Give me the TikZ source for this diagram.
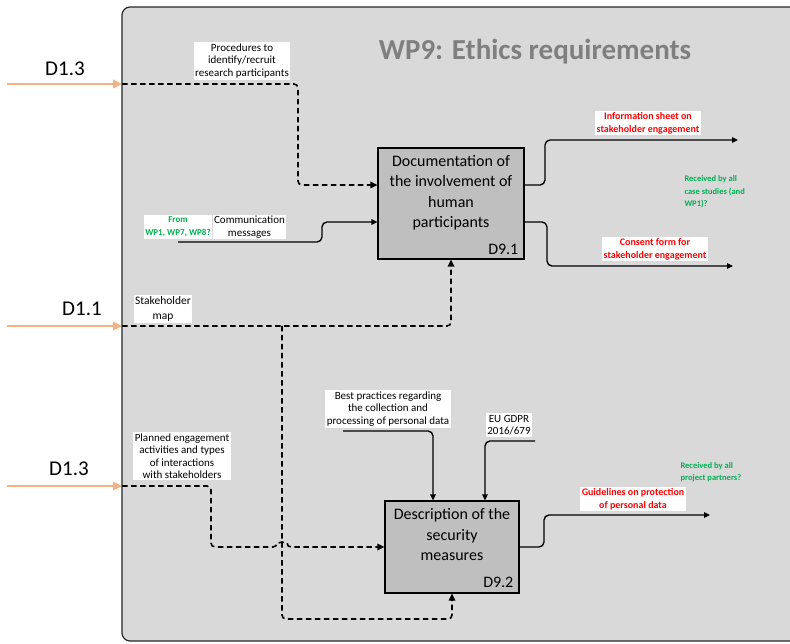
\documentclass[tikz,border=0pt]{standalone}
\usepackage{fontspec}
\setmainfont{Carlito}
\usetikzlibrary{positioning}
\usetikzlibrary{arrows.meta}
\definecolor{bggray}{HTML}{D9D9D9}
\definecolor{boxgray}{HTML}{BFBFBF}
\definecolor{titlegray}{HTML}{7F7F7F}
\definecolor{feedorange}{HTML}{F4B183}
\definecolor{notegreen}{HTML}{00B050}
\tikzstyle{procbox} = [draw, fill=boxgray, line width=1.1pt]
\tikzstyle{proctext} = [align=center, font=\fontsize{16}{20.5}\selectfont]
\tikzstyle{idtag} = [inner sep=0pt, font=\fontsize{16}{20}\selectfont]
\tikzstyle{lbl} = [fill=white, inner sep=1.5pt, align=center, font=\fontsize{11}{12.5}\selectfont]
\tikzstyle{outlbl} = [fill=white, inner sep=1.5pt, align=center, text=red, font=\bfseries\fontsize{10}{13}\selectfont]
\tikzstyle{note} = [align=left, text=notegreen, font=\bfseries\fontsize{8.5}{12.5}\selectfont]
\tikzstyle{dflow} = [line width=1.6pt, dash pattern=on 5.5pt off 3.5pt, rounded corners=4pt, -{Triangle[length=7pt,width=6.5pt]}]
\tikzstyle{sflow} = [line width=1.35pt, rounded corners=5pt, -{Triangle[length=6pt,width=5.5pt]}]
\tikzstyle{feed} = [line width=2.6pt, draw=feedorange, -{Triangle[length=9pt,width=8.5pt]}]
\tikzstyle{dname} = [font=\fontsize{21}{24}\selectfont]

\begin{document}
\begin{tikzpicture}[x=1pt,y=-1pt]
    \useasboundingbox (0,0) rectangle (790,644);
    % Frame of the work package
    \draw[rounded corners=8pt, fill=bggray, draw=black!85, line width=1.2pt] (122,7) rectangle (805,641);
    \node[font=\bfseries\fontsize{29}{32}\selectfont, text=titlegray] (title) at (535,52) {WP9: Ethics requirements};

    % Activities
    \node[procbox, minimum width=146pt, minimum height=111pt] (doc) at (451,203.5) {};
    \node[proctext] (doctxt) at (451,193) {Documentation of\\the involvement of\\human\\participants};
    \node[idtag, above left=5pt and 6pt of doc.south east] (docid) {D9.1};
    \node[procbox, minimum width=134pt, minimum height=92pt] (sec) at (452,547) {};
    \node[proctext] (sectxt) at (452,535) {Description of the\\security\\measures};
    \node[idtag, above left=6pt and 6pt of sec.south east] (secid) {D9.2};

    % Incoming deliverables
    \node[dname] (dA) at (65,69) {D1.3};
    \node[dname] (dB) at (82,309) {D1.1};
    \node[dname] (dC) at (69,469) {D1.3};
    \coordinate (srcP) at (7,84);
    \coordinate (srcS) at (7,326);
    \coordinate (srcE) at (7,486);
    \coordinate (inP) at (122,84);
    \coordinate (inS) at (122,326);
    \coordinate (inE) at (122,486);
    \draw[feed] (srcP) -- (inP);
    \draw[feed] (srcS) -- (inS);
    \draw[feed] (srcE) -- (inE);

    % Inputs of D9.1
    \node[lbl] (procLbl) at (242,61) {Procedures to\\identify/recruit\\research participants};
    \draw[dflow] (inP) -- (298,84) -- (298,185) -- (doc.west |- 0,185);
    \node[note, align=center, font=\bfseries\fontsize{9}{13}\selectfont, fill=white, inner sep=1.5pt] (fromLbl) at (178,227) {From\\WP1, WP7, WP8?};
    \node[lbl, right=0pt of fromLbl] (commLbl) {Communication\\messages};
    \coordinate (commStart) at (178,242);
    \draw[sflow] (commStart) -- (322,242) -- (322,222) -- (doc.west |- 0,222);

    % Stakeholder map to both activities
    \node[lbl, font=\fontsize{11.5}{15}\selectfont] (mapLbl) at (163,309) {Stakeholder\\map};
    \draw[dflow] (inS) -| (doc.south);
    \coordinate (split) at (282,326);
    \draw[dflow] (split) -- (282,619) -| (sec.south);

    % Inputs of D9.2
    \node[lbl] (planLbl) at (182,456) {Planned engagement\\activities and types\\of interactions\\with stakeholders};
    \draw[dflow] (inE) -- (211,486) -- (211,547) -- (277,547) arc[start angle=180, end angle=360, radius=5] -- (sec.west);
    \node[lbl] (bestLbl) at (388,409) {Best practices regarding\\the collection and\\processing of personal data};
    \coordinate (bestStart) at (343,431);
    \draw[sflow] (bestStart) -- (433,431) -- (sec.north -| 433,0);
    \node[lbl] (gdprLbl) at (509,425) {EU GDPR\\2016/679};
    \coordinate (gdprStart) at (535,441);
    \draw[sflow] (gdprStart) -- (485,441) -- (sec.north -| 485,0);

    % Outputs
    \node[outlbl] (infoLbl) at (648,123) {Information sheet on\\stakeholder engagement};
    \coordinate (outInfo) at (738,140);
    \draw[sflow] (doc.east |- 0,185) -- (545,185) -- (545,140) -- (outInfo);
    \node[outlbl] (consLbl) at (655,249) {Consent form for\\stakeholder engagement};
    \coordinate (outCons) at (733,266);
    \draw[sflow] (doc.east |- 0,222) -- (547,222) -- (547,266) -- (outCons);
    \node[note, anchor=west] (caseNote) at (681,192) {Received by all\\case studies (and\\WP1)?};
    \node[outlbl] (guideLbl) at (633,499) {Guidelines on protection\\of personal data};
    \coordinate (outGuide) at (710,515);
    \draw[sflow] (sec.east) -- (544,547) -- (544,515) -- (outGuide);
    \node[note, anchor=west] (partNote) at (677,472) {Received by all\\project partners?};
\end{tikzpicture}
\end{document}
